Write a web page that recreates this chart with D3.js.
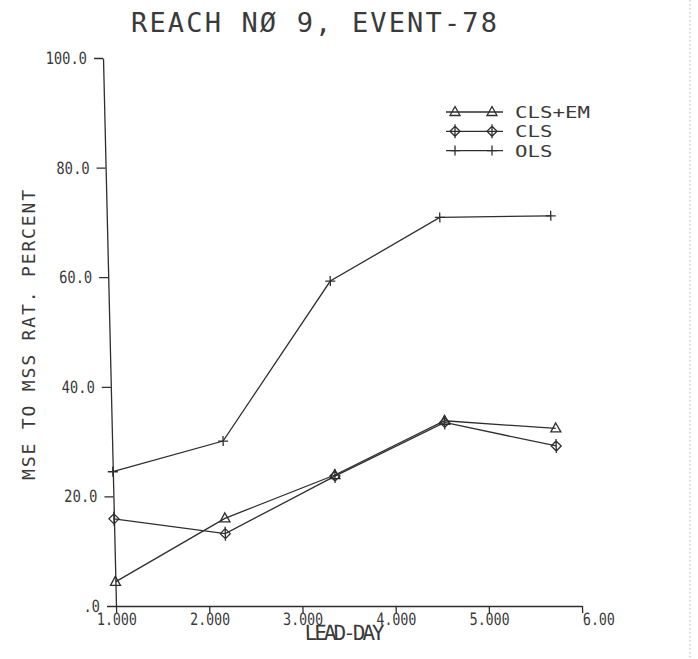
<!DOCTYPE html>
<html>
<head>
<meta charset="utf-8">
<script src="https://cdn.jsdelivr.net/npm/d3@7"></script>
<style>
  body { margin: 0; background: #fff; }
  svg { display: block; }
  text { font-family: "DejaVu Sans Mono", "Liberation Mono", monospace; fill: #3a3a3a; }
</style>
</head>
<body>
<svg id="chart" width="698" height="659"></svg>
<script>
// Lead day of each forecast point
const leadDays = [1, 2, 3, 4, 5];
// MSE to MSS ratio, percent, per estimator
const clsEm = [4.4, 16.0, 23.9, 33.8, 32.4];
const cls   = [15.9, 13.2, 23.7, 33.5, 29.2];
const ols   = [24.5, 30.1, 59.3, 70.9, 71.2];

const seriesNames = ["CLS+EM", "CLS", "OLS"];
const seriesValues = [clsEm, cls, ols];
const seriesMarkers = ["triangle", "diamond", "plus"];

const yTicks = [0, 20, 40, 60, 80, 100];
const yTickLabels = [".0", "20.0", "40.0", "60.0", "80.0", "100.0"];
const xTicks = [1, 2, 3, 4, 5, 6];
const xTickLabels = ["1.000", "2.000", "3.000", "4.000", "5.000", "6.00"];

const titleText = "REACH NØ 9, EVENT-78";
const yTitleText = "MSE TO MSS RAT. PERCENT";
const xTitleText = "LEAD-DAY";

const ink = "#2e2e2e";
const svg = d3.select("#chart");

// Plotter symbols
const markerPath = {
  triangle: "M0,-5.5L5,3.5L-5,3.5Z",
  diamond: "M0,-5L5,0L0,5L-5,0ZM0,-7V7",
  plus: "M-5,0H5M0,-5V5"
};

// Faint border line on the right of the sheet
svg.append("line")
  .attr("x1", 690).attr("x2", 690).attr("y1", 0).attr("y2", 659)
  .attr("stroke", "#b5b5b5").attr("stroke-width", 1)
  .attr("stroke-dasharray", "1.5,2.5");

// Title
svg.append("text")
  .attr("x", 131).attr("y", 32)
  .attr("font-size", 27)
  .attr("textLength", 366).attr("lengthAdjust", "spacing")
  .text(titleText);

// Y-axis title
svg.append("text")
  .attr("transform", "translate(35,335) rotate(-90)")
  .attr("text-anchor", "middle")
  .attr("font-size", 18)
  .attr("textLength", 290).attr("lengthAdjust", "spacing")
  .text(yTitleText);

// Plot area: origin at the lower-left corner, slightly sheared like the pen plot
const plot = svg.append("g")
  .attr("transform", "translate(116,606) skewX(1.36)");

const y = d3.scaleLinear().domain([0, 100]).range([0, -548]);
const xAxisScale = d3.scaleLinear().domain([1, 6]).range([0, 466]);
const xData = d3.scaleLinear().domain([1, 5]).range([0, 444]);

// Y axis
const yAxis = plot.append("g")
  .call(d3.axisLeft(y).tickValues(yTicks)
    .tickFormat((d, i) => yTickLabels[i])
    .tickSize(9).tickSizeOuter(0).tickPadding(7));
yAxis.select(".domain").attr("stroke", ink).attr("stroke-width", 1.3);
yAxis.selectAll(".tick line").attr("stroke", ink).attr("stroke-width", 1.3);
yAxis.selectAll(".tick text")
  .attr("font-size", 17)
  .attr("font-family", null)
  .attr("fill", null)
  .attr("textLength", (d, i) => yTickLabels[i].length * 8.3)
  .attr("lengthAdjust", "spacingAndGlyphs");

// X axis
const xAxis = plot.append("g")
  .call(d3.axisBottom(xAxisScale).tickValues(xTicks)
    .tickFormat((d, i) => xTickLabels[i])
    .tickSize(7).tickSizeOuter(0).tickPadding(0));
xAxis.select(".domain").attr("stroke", ink).attr("stroke-width", 1.3);
xAxis.selectAll(".tick line").attr("stroke", ink).attr("stroke-width", 1.3);
const lastTick = xTickLabels.length - 1;
xAxis.selectAll(".tick text")
  .attr("font-size", 17)
  .attr("font-family", null)
  .attr("fill", null)
  .attr("textLength", (d, i) => xTickLabels[i].length * 8)
  .attr("lengthAdjust", "spacingAndGlyphs")
  .attr("text-anchor", (d, i) => i === lastTick ? "start" : "middle")
  .attr("x", 0);

// X-axis title
plot.append("text")
  .attr("x", 188).attr("y", 34)
  .attr("font-size", 21)
  .attr("textLength", 80).attr("lengthAdjust", "spacing")
  .text(xTitleText);

// Series lines and markers
const line = d3.line()
  .x((d, i) => xData(leadDays[i]))
  .y(d => y(d));

seriesValues.forEach((vals, s) => {
  plot.append("path")
    .datum(vals)
    .attr("d", line)
    .attr("fill", "none")
    .attr("stroke", ink)
    .attr("stroke-width", 1.3);
  plot.selectAll(null)
    .data(vals)
    .join("path")
    .attr("transform", (d, i) => `translate(${xData(leadDays[i])},${y(d)})`)
    .attr("d", markerPath[seriesMarkers[s]])
    .attr("fill", "none")
    .attr("stroke", ink)
    .attr("stroke-width", 1.3);
});

// Legend
const legend = svg.append("g").attr("transform", "translate(446,112)");
seriesNames.forEach((name, s) => {
  const row = legend.append("g").attr("transform", `translate(0,${s * 19.3})`);
  row.append("line").attr("x1", 0).attr("x2", 57)
    .attr("stroke", ink).attr("stroke-width", 1.3);
  [9, 46].forEach(mx => {
    row.append("path")
      .attr("transform", `translate(${mx},0)`)
      .attr("d", markerPath[seriesMarkers[s]])
      .attr("fill", "none").attr("stroke", ink).attr("stroke-width", 1.3);
  });
  row.append("text")
    .attr("x", 69).attr("y", 6)
    .attr("font-size", 16.5)
    .attr("textLength", name.length * 12.5).attr("lengthAdjust", "spacingAndGlyphs")
    .text(name);
});
</script>
</body>
</html>
